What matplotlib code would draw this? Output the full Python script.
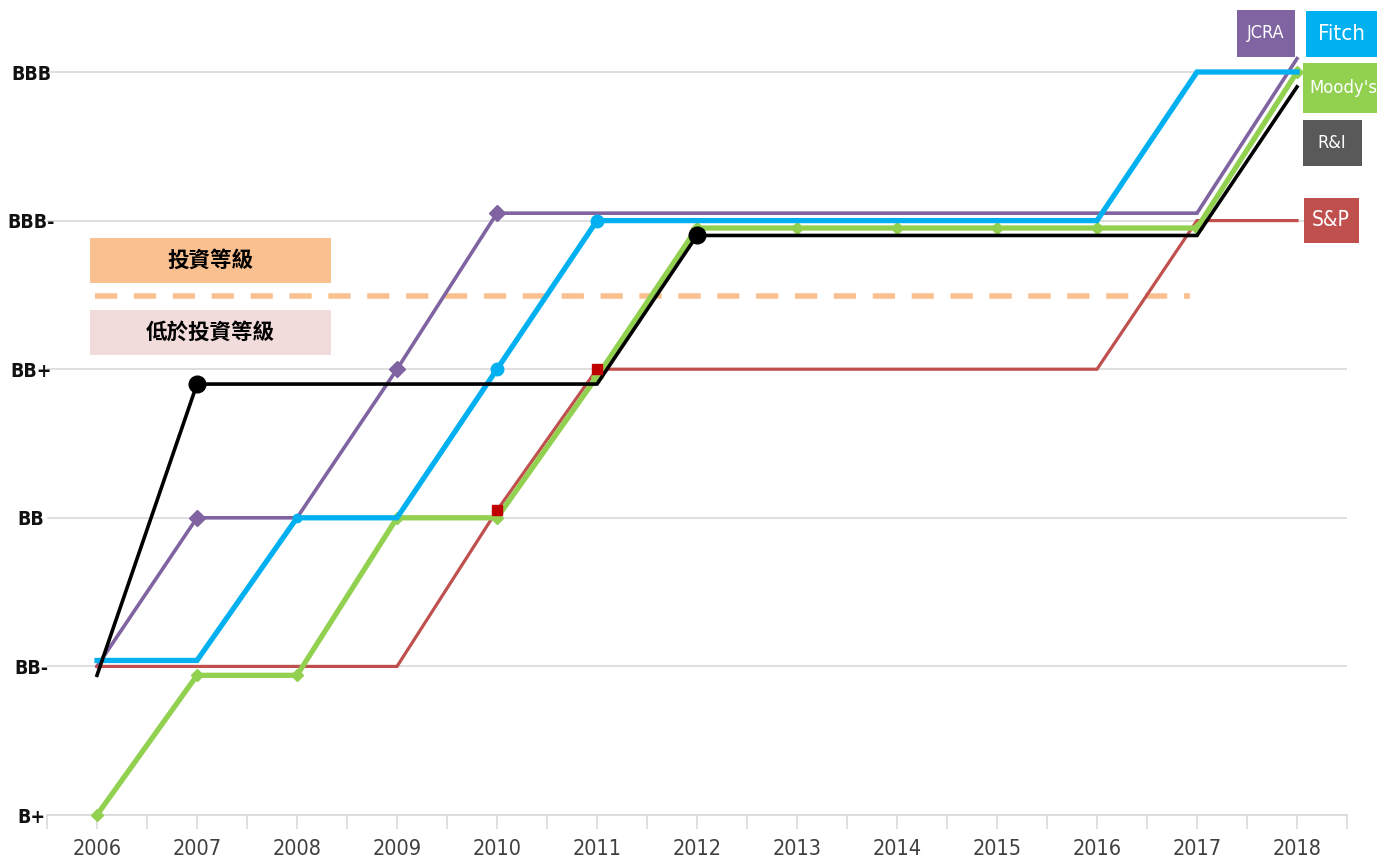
import matplotlib
matplotlib.use('Agg')
import matplotlib.pyplot as plt
from matplotlib.patches import Rectangle

plt.rcParams['font.family'] = ['DejaVu Sans']
plt.rcParams['font.stretch'] = 'condensed'

years = list(range(2006, 2019))
grades = ['B+', 'BB-', 'BB', 'BB+', 'BBB-', 'BBB']

# rating level per year (0 = B+, 5 = BBB), small offsets as drawn in the source
fitch = [1.04, 1.04, 2, 2, 3, 4, 4, 4, 4, 4, 4, 5, 5]
jcra = [1.0, 2, 2, 3, 4.05, 4.05, 4.05, 4.05, 4.05, 4.05, 4.05, 4.05, 5.09]
moodys = [0, 0.94, 0.94, 2, 2, 2.95, 3.95, 3.95, 3.95, 3.95, 3.95, 3.95, 5.0]
rni = [0.94, 2.9, 2.9, 2.9, 2.9, 2.9, 3.9, 3.9, 3.9, 3.9, 3.9, 3.9, 4.9]
sp = [1, 1, 1, 1, 2.05, 3, 3, 3, 3, 3, 3, 4, 4]

agencies = ['JCRA', 'Fitch', "Moody's", 'R&I', 'S&P']
band_labels = ['投資等級', '低於投資等級']

c_jcra, c_fitch, c_moody, c_rni, c_sp = '#8064A2', '#00B0F0', '#92D050', '#000000', '#C0504D'

W, H = 1377, 863
fig = plt.figure(figsize=(W / 100, H / 100), dpi=100)
ax = fig.add_axes([47 / W, (H - 815) / H, 1300 / W, 815 / H])
ax.set_xlim(2005.5, 2018.5)
ax.set_ylim(0, 5 + 72 / 148.6)

for s in ['top', 'right', 'left']:
    ax.spines[s].set_visible(False)
ax.spines['bottom'].set_color('#D9D9D9')
ax.spines['bottom'].set_linewidth(1.2)

ax.set_yticks(range(6))
ax.set_yticklabels(grades, fontsize=14, fontweight='bold', color='#111111')
ax.tick_params(axis='y', length=0, pad=11.5)
for lbl in ax.get_yticklabels():
    lbl.set_horizontalalignment('center')
ax.yaxis.grid(True, color='#D9D9D9', linewidth=1.2)
ax.set_axisbelow(True)

ax.set_xticks(years)
ax.set_xticklabels([str(y) for y in years], fontsize=15.5, color='#404040')
ax.set_xticks([y - 0.5 for y in years] + [2018.5], minor=True)
ax.tick_params(axis='x', which='both', length=10, color='#D9D9D9', width=1.2, pad=7)

kw = dict(clip_on=False, solid_joinstyle='miter')
ax.plot(years, jcra, color=c_jcra, lw=2.6, zorder=3, **kw)
ax.plot([years[i] for i in (1, 3, 4)], [jcra[i] for i in (1, 3, 4)], 'D',
        color=c_jcra, ms=8, zorder=3, clip_on=False)
ax.plot(years, sp, color=c_sp, lw=2.3, zorder=4, **kw)
ax.plot(years, moodys, color=c_moody, lw=3.8, marker='D', ms=6, zorder=5, **kw)
ax.plot(years, fitch, color=c_fitch, lw=3.8, zorder=6, **kw)
ax.plot([years[i] for i in (4, 5)], [fitch[i] for i in (4, 5)], 'o',
        color=c_fitch, ms=9, zorder=6, clip_on=False)
ax.plot([years[2]], [fitch[2]], 'o', color=c_fitch, ms=6, zorder=6, clip_on=False)
ax.plot(years, rni, color=c_rni, lw=2.6, zorder=7, **kw)
ax.plot([years[i] for i in (1, 6)], [rni[i] for i in (1, 6)], 'o',
        color=c_rni, ms=12, zorder=7, clip_on=False)
ax.plot([years[i] for i in (4, 5)], [sp[i] for i in (4, 5)], 's',
        color='#C00000', ms=7, zorder=8, clip_on=False)


def px2data(px, py):
    return 2005.5 + (px - 47) / 100, (815 - py) / 148.6


# investment grade bands
cjk = ['Noto Sans CJK TC', 'DejaVu Sans']
x0, y0 = px2data(90, 283)
x1, y1 = px2data(331, 238)
ax.add_patch(Rectangle((x0, y0), x1 - x0, y1 - y0, color='#FAC090', zorder=2, lw=0))
ax.text((x0 + x1) / 2, (y0 + y1) / 2, band_labels[0], ha='center', va='center',
        fontsize=15.5, fontweight='bold', family=cjk, fontstretch='normal', zorder=9)
x0, y0 = px2data(90, 355)
x1, y1 = px2data(331, 310)
ax.add_patch(Rectangle((x0, y0), x1 - x0, y1 - y0, color='#F2DCDB', zorder=2, lw=0))
ax.text((x0 + x1) / 2, (y0 + y1) / 2, band_labels[1], ha='center', va='center',
        fontsize=15.5, fontweight='bold', family=cjk, fontstretch='normal', zorder=9)
dx0, dy = px2data(95, 296)
dx1, _ = px2data(1190, 296)
ax.plot([dx0, dx1], [dy, dy], color='#FAC090', lw=4, dashes=(4, 3), zorder=2)

# legend boxes at the right edge
boxes = [
    (1237, 10, 1295, 57, c_jcra, 13),
    (1306, 11, 1380, 57, c_fitch, 16),
    (1303, 63, 1380, 113, c_moody, 13.2),
    (1303, 120, 1362, 166, '#595959', 13),
    (1304, 198, 1359, 243, c_sp, 15),
]
text_x = [1266, 1341, 1309, 1332, 1331]
for name, (l, t, r, b, col, fs), tx in zip(agencies, boxes, text_x):
    fig.patches.append(Rectangle((l / W, 1 - b / H), (r - l) / W, (b - t) / H,
                                 transform=fig.transFigure, color=col, lw=0))
    ha = 'left' if name == "Moody's" else 'center'
    fig.text(tx / W, 1 - (t + b) / 2 / H, name, ha=ha, va='center',
             color='white', fontsize=fs)

fig.savefig('out.png', dpi=100)
